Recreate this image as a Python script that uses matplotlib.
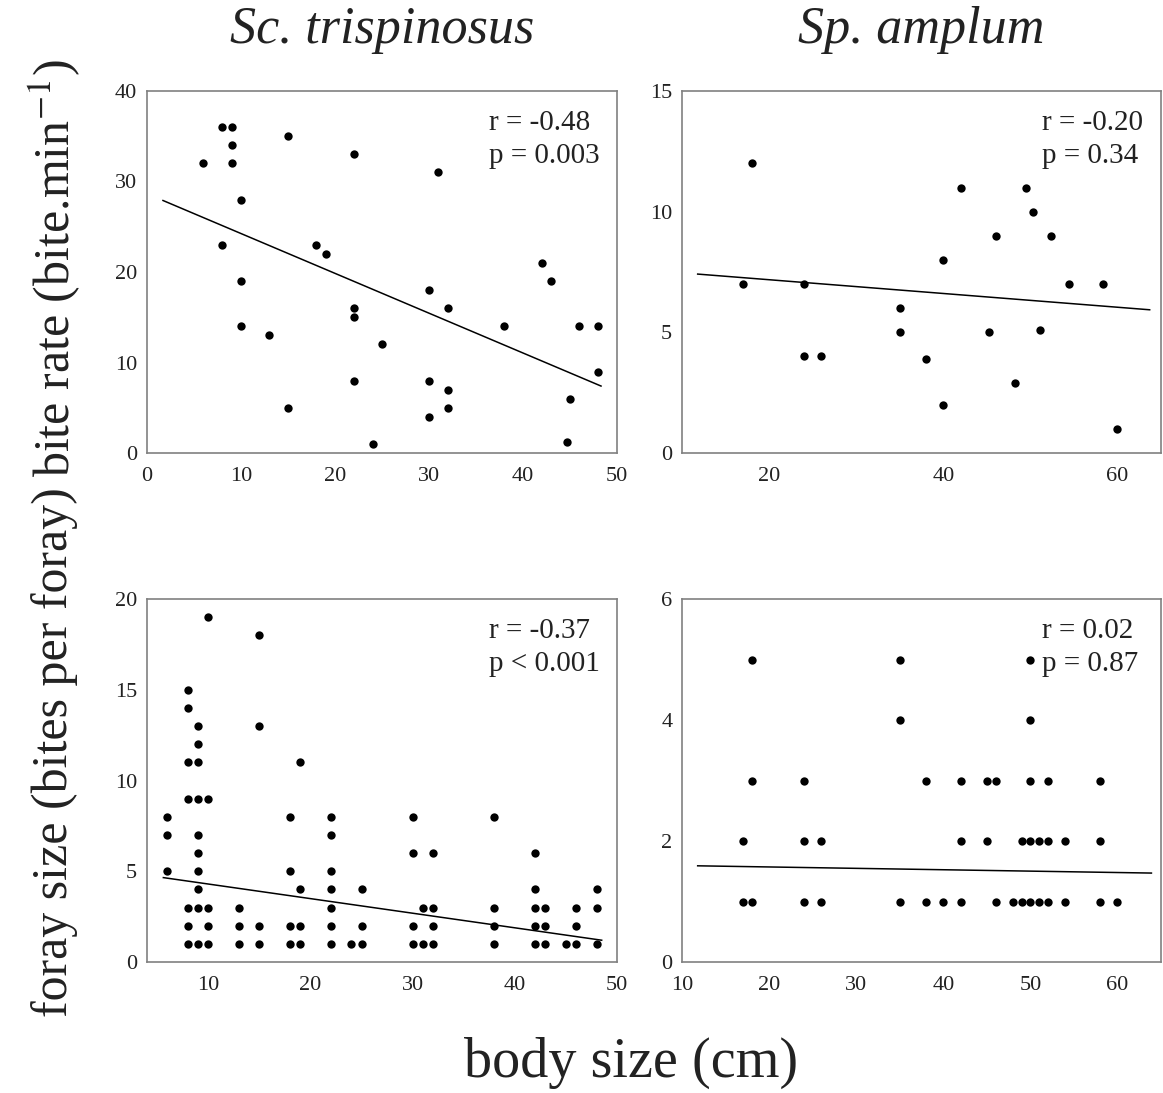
import numpy as np
import matplotlib
matplotlib.use('Agg')
from matplotlib import pyplot as plt

# bite rate, Sc. trispinosus
tl_x = [8, 9, 9, 6, 9, 15, 22, 31, 10, 8, 18, 19, 42, 43, 10, 30, 32, 22, 22, 10,
        38, 46, 48, 13, 25, 48, 22, 30, 32, 45, 15, 32, 30, 24, 44.7]
tl_y = [36, 36, 34, 32, 32, 35, 33, 31, 28, 23, 23, 22, 21, 19, 19, 18, 16, 16, 15, 14,
        14, 14, 14, 13, 12, 9, 8, 8, 7, 6, 5, 5, 4, 1, 1.2]

# bite rate, Sp. amplum
tr_x = [18, 17, 24, 24, 26, 35, 35, 38, 40, 40, 42, 46, 45.3, 48.2, 49.5, 50.3, 52.4,
        51.1, 54.4, 58.3, 60]
tr_y = [12, 7, 7, 4, 4, 6, 5, 3.9, 8, 2, 11, 9, 5, 2.9, 11, 10, 9, 5.1, 7, 7, 1]

# foray size, Sc. trispinosus
bl_x = [6, 6, 6,
        8, 8, 8, 8, 8, 8, 8,
        9, 9, 9, 9, 9, 9, 9, 9, 9, 9,
        10, 10, 10, 10, 10,
        13, 13, 13,
        15, 15, 15, 15,
        18, 18, 18, 18,
        19, 19, 19, 19,
        22, 22, 22, 22, 22, 22, 22,
        24,
        25, 25, 25,
        30, 30, 30, 30,
        31, 31,
        32, 32, 32, 32,
        38, 38, 38, 38,
        42, 42, 42, 42, 42,
        43, 43, 43,
        45,
        46, 46, 46,
        48, 48, 48]
bl_y = [8, 7, 5,
        15, 14, 11, 9, 3, 2, 1,
        13, 12, 11, 9, 7, 6, 5, 4, 3, 1,
        19, 9, 3, 2, 1,
        3, 2, 1,
        18, 13, 2, 1,
        8, 5, 2, 1,
        11, 4, 2, 1,
        8, 7, 5, 4, 3, 2, 1,
        1,
        4, 2, 1,
        8, 6, 2, 1,
        3, 1,
        6, 3, 2, 1,
        8, 3, 2, 1,
        6, 4, 3, 2, 1,
        3, 2, 1,
        1,
        3, 2, 1,
        4, 3, 1]

# foray size, Sp. amplum
br_x = [18, 35, 50,
        35, 50,
        18, 24, 38, 42, 45, 46, 50, 52, 58,
        17, 24, 26, 42, 45, 49, 50, 51, 52, 54, 58,
        17, 18, 24, 26, 35, 38, 40, 42, 46, 48, 49, 50, 51, 52, 54, 58, 60]
br_y = [5, 5, 5,
        4, 4,
        3, 3, 3, 3, 3, 3, 3, 3, 3,
        2, 2, 2, 2, 2, 2, 2, 2, 2, 2, 2,
        1, 1, 1, 1, 1, 1, 1, 1, 1, 1, 1, 1, 1, 1, 1, 1, 1]

# regression lines: slope, intercept, x range
fit_tl = (-0.44, 28.65, 1.7, 48.3)
fit_tr = (-0.0285, 7.75, 11.8, 63.7)
fit_bl = (-0.0804, 5.10, 5.6, 48.5)
fit_br = (-0.0023, 1.617, 11.8, 63.9)

stats = [("r = -0.48", "p = 0.003"), ("r = -0.20", "p = 0.34"),
         ("r = -0.37", "p < 0.001"), ("r = 0.02", "p = 0.87")]

plt.rcParams['font.family'] = ['Liberation Serif', 'DejaVu Serif']
plt.rcParams['mathtext.fontset'] = 'stix'

W, H = 1163, 1093
fig = plt.figure(figsize=(W / 100, H / 100), dpi=100)

def px_axes(l, t, r, b):
    return fig.add_axes([l / W, 1 - b / H, (r - l) / W, (b - t) / H])

ax_tl = px_axes(147, 91, 617, 453)
ax_tr = px_axes(682, 91, 1161, 453)
ax_bl = px_axes(147, 599, 617, 962)
ax_br = px_axes(682, 599, 1161, 962)

panels = [
    (ax_tl, tl_x, tl_y, fit_tl, (0, 50), (0, 40), [0, 10, 20, 30, 40, 50], [0, 10, 20, 30, 40], 0.728),
    (ax_tr, tr_x, tr_y, fit_tr, (10, 65), (0, 15), [20, 40, 60], [0, 5, 10, 15], 0.752),
    (ax_bl, bl_x, bl_y, fit_bl, (4, 50), (0, 20), [10, 20, 30, 40, 50], [0, 5, 10, 15, 20], 0.728),
    (ax_br, br_x, br_y, fit_br, (10, 65), (0, 6), [10, 20, 30, 40, 50, 60], [0, 2, 4, 6], 0.752),
]

for (ax, x, y, fit, xl, yl, xt, yt, tx), st in zip(panels, stats):
    ax.scatter(x, y, s=36, color='black', linewidths=0, zorder=3, clip_on=False)
    slope, icpt, x0, x1 = fit
    lx = np.array([x0, x1])
    ax.plot(lx, slope * lx + icpt, color='black', lw=1.1)
    ax.set_xlim(*xl)
    ax.set_ylim(*yl)
    ax.set_xticks(xt)
    ax.set_yticks(yt)
    ax.tick_params(length=0, labelsize=16, colors='#222222')
    ax.tick_params(axis='x', pad=10)
    ax.tick_params(axis='y', pad=7)
    for sp in ax.spines.values():
        sp.set_color('#808080')
        sp.set_linewidth(1.2)
    ax.text(tx, 0.947, st[0] + "\n" + st[1], transform=ax.transAxes,
            ha='left', va='top', fontsize=21, color='#222222', linespacing=1.32)

fig.text(382 / W, 1 - 43 / H, "Sc. trispinosus", ha='center', va='baseline',
         fontsize=37.5, style='italic', color='#222222')
fig.text(921 / W, 1 - 43 / H, "Sp. amplum", ha='center', va='baseline',
         fontsize=37.5, style='italic', color='#222222')
fig.text(631 / W, 1 - 1077 / H, "body size (cm)", ha='center', va='baseline',
         fontsize=40.5, color='#222222')
fig.text(70 / W, 1 - 268 / H, "bite rate (bite.min$^{-1}$)", rotation=90,
         rotation_mode='anchor', ha='center', va='baseline', fontsize=36, color='#222222')
fig.text(67 / W, 1 - 752 / H, "foray size (bites per foray)", rotation=90,
         rotation_mode='anchor', ha='center', va='baseline', fontsize=36, color='#222222')

plt.savefig('out.png', dpi=100)
